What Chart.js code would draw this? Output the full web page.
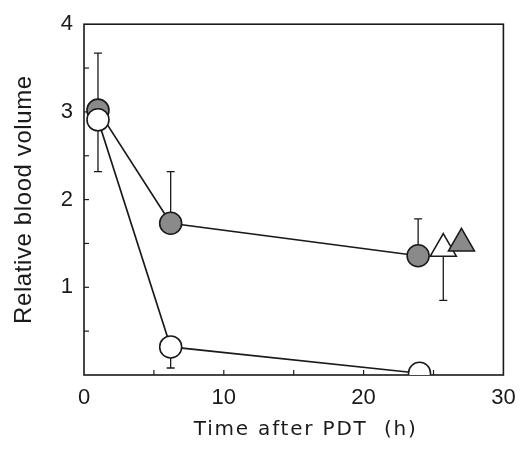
<!DOCTYPE html>
<html>
<head>
<meta charset="utf-8">
<script src="https://cdn.jsdelivr.net/npm/chart.js@4/dist/chart.umd.min.js"></script>
<style>
  html, body { margin:0; padding:0; background:#fff; }
  #wrap { width:520px; height:449px; }
</style>
</head>
<body>
<div id="wrap"><canvas id="chart" width="520" height="449"></canvas></div>
<script>
// ===== DATA =====
const openTimes   = [1, 6.2, 24];
const openValues  = [2.91, 0.32, 0.02];
const openErrLow  = [2.32, 0.08, null];   // lower bar end (only drawn downward)

const filledTimes  = [1, 6.2, 23.9];
const filledValues = [3.02, 1.73, 1.36];
const filledErrHigh = [3.67, 2.32, 1.78]; // upper bar end

const openTriTime = [25.7];
const openTriValue = [1.44];
const openTriErrLow = [0.85];

const filledTriTime = [27.0];
const filledTriValue = [1.5];

const xTicks = [0, 10, 20, 30];
const yTicks = [1, 2, 3, 4];

const FONT = "'Liberation Sans', Arial, sans-serif";
const INK = "#1a1a1a";

function pts(xs, ys){ return xs.map((x,i)=>({x:x, y:ys[i]})); }

// ===== PLUGINS =====
const frameAndErrors = {
    id: "frameAndErrors",
    beforeDatasetsDraw(chart){
        const ctx = chart.ctx, a = chart.chartArea;
        const xs = chart.scales.x, ys = chart.scales.y;
        ctx.save();
        ctx.strokeStyle = INK;
        ctx.lineWidth = 1.6;
        ctx.strokeRect(a.left, a.top, a.right-a.left, a.bottom-a.top);

        // inward minor ticks
        ctx.lineWidth = 1.2;
        for(let v=5; v<30; v+=5){
            const px = xs.getPixelForValue(v);
            ctx.beginPath(); ctx.moveTo(px, a.bottom); ctx.lineTo(px, a.bottom-5); ctx.stroke();
        }
        for(let v=0.5; v<4; v+=0.5){
            const py = ys.getPixelForValue(v);
            ctx.beginPath(); ctx.moveTo(a.left, py); ctx.lineTo(a.left+5, py); ctx.stroke();
        }

        // error bars
        function bar(x, from, to){
            const px = xs.getPixelForValue(x);
            const p1 = ys.getPixelForValue(from), p2 = ys.getPixelForValue(to);
            ctx.beginPath(); ctx.moveTo(px, p1); ctx.lineTo(px, p2);
            ctx.moveTo(px-4, p2); ctx.lineTo(px+4, p2); ctx.stroke();
        }
        ctx.lineWidth = 1.3;
        filledTimes.forEach((t,i)=>{ if(filledErrHigh[i]!=null) bar(t, filledValues[i], filledErrHigh[i]); });
        openTimes.forEach((t,i)=>{ if(openErrLow[i]!=null) bar(t, openValues[i], openErrLow[i]); });
        openTriTime.forEach((t,i)=>bar(t, openTriValue[i], openTriErrLow[i]));
        ctx.restore();
    }
};

// titles in the scan are spaced wider than the font, nudge them a bit
function spaceTitle(scale, sp, dx, dy){
    if(scale._spaced) return;
    const orig = scale.drawTitle;
    scale.drawTitle = function(){
        const c = this.ctx;
        c.save();
        c.letterSpacing = sp+"px";
        c.translate(dx, dy);
        orig.call(this);
        c.restore();
    };
    scale._spaced = true;
}
const titleSpacing = {
    id: "titleSpacing",
    beforeDraw(chart){
        spaceTitle(chart.scales.x, 1.8, 12, 0);
        spaceTitle(chart.scales.y, 0.6, 0, 0);
    }
};

// ===== CHART =====
const ctx = document.getElementById("chart").getContext("2d");
const chart = new Chart(ctx, {
    type: "scatter",
    data: {
        datasets: [
            {
                label: "open",
                data: pts(openTimes, openValues),
                showLine: true,
                borderColor: INK,
                borderWidth: 1.7,
                pointRadius: 11,
                pointBackgroundColor: "#ffffff",
                pointBorderColor: INK,
                pointBorderWidth: 1.6,
                order: 1
            },
            {
                label: "filled",
                data: pts(filledTimes, filledValues),
                showLine: true,
                borderColor: INK,
                borderWidth: 1.7,
                pointRadius: 11,
                pointBackgroundColor: "#8a8a8a",
                pointBorderColor: INK,
                pointBorderWidth: 1.6,
                order: 2
            },
            {
                label: "open triangle",
                data: pts(openTriTime, openTriValue),
                showLine: false,
                pointStyle: "triangle",
                pointRadius: 15,
                pointBackgroundColor: "#ffffff",
                pointBorderColor: INK,
                pointBorderWidth: 1.6,
                order: 3
            },
            {
                label: "filled triangle",
                data: pts(filledTriTime, filledTriValue),
                showLine: false,
                pointStyle: "triangle",
                pointRadius: 15,
                pointBackgroundColor: "#8a8a8a",
                pointBorderColor: INK,
                pointBorderWidth: 1.6,
                order: 0
            }
        ]
    },
    options: {
        responsive: false,
        animation: false,
        layout: { padding: { top: 21, right: 0, left: 0, bottom: 0 } },
        plugins: { legend: { display: false }, tooltip: { enabled: false } },
        scales: {
            x: {
                type: "linear",
                min: 0, max: 30,
                afterFit(s){ s.height = 74; s.paddingRight = 12; s.paddingLeft = 0; },
                afterBuildTicks(s){ s.ticks = xTicks.map(v=>({value:v})); },
                grid: { display: false, drawTicks: false },
                border: { display: false },
                ticks: { color: INK, padding: 10, maxRotation: 0, font: { family: FONT, size: 22 } },
                title: { display: true, text: "Time after PDT  (h)", color: INK,
                         padding: { top: 0, bottom: 7 }, font: { family: "'DejaVu Sans', sans-serif", size: 20 } }
            },
            y: {
                type: "linear",
                min: 0, max: 4,
                afterFit(s){ s.width = 84; },
                afterBuildTicks(s){ s.ticks = yTicks.map(v=>({value:v})); },
                grid: { display: false, drawTicks: false },
                border: { display: false },
                ticks: { color: INK, padding: 11, font: { family: FONT, size: 22 } },
                title: { display: true, text: "Relative blood volume", color: INK,
                         padding: { top: 10, bottom: 0 }, font: { family: FONT, size: 24 } }
            }
        }
    },
    plugins: [frameAndErrors, titleSpacing]
});
</script>
</body>
</html>
